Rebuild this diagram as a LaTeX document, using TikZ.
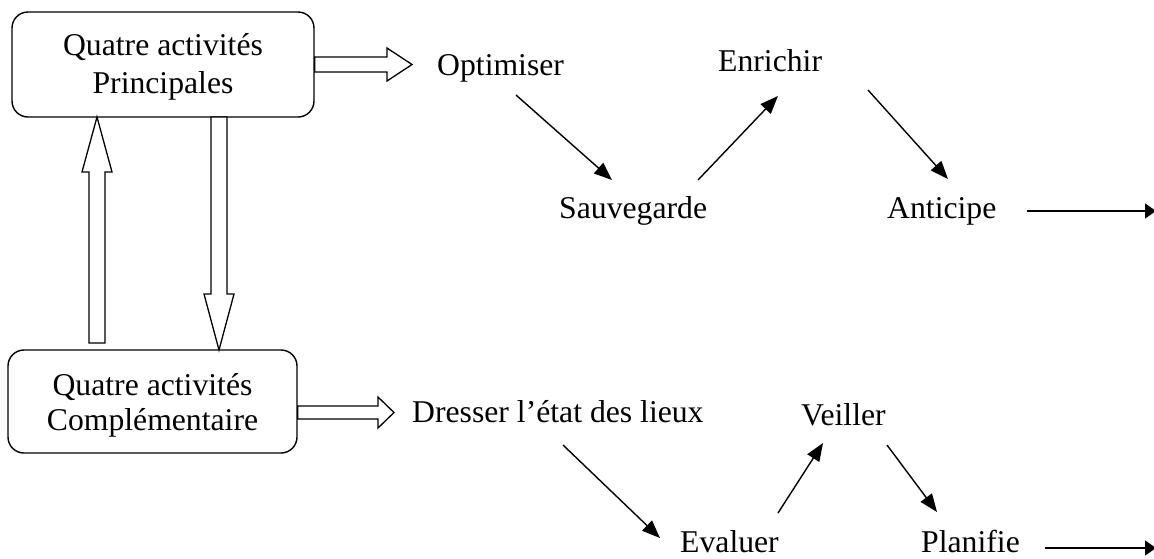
\documentclass[tikz,border=0pt]{standalone}
\usepackage{fontspec}
\setmainfont{Liberation Serif}
\usetikzlibrary{arrows.meta}
\begin{document}
\begin{tikzpicture}[x=1pt,y=-1pt,
  actbox/.style={draw, line width=1.4pt, rounded corners=16pt, inner sep=0pt},
  lbl/.style={anchor=base west, inner sep=0pt, font=\fontsize{31.7}{38}\selectfont},
  flow/.style={line width=1.4pt, -{Triangle[length=18pt,width=14pt]}},
  exit/.style={line width=1.6pt, -{Triangle[length=11pt,width=15pt]}},
  hollow/.style={draw, line width=1.3pt, fill=white, line join=miter}]
\useasboundingbox (0,0) rectangle (1154,558);

% the two activity boxes (text anchored on the baseline of its last line)
\node[actbox, minimum width=302pt, minimum height=105pt] (prin) at (163,64.5) {};
\node[lbl, anchor=base, align=center] (prinT) at (163,93) {Quatre activités\\Principales};
\node[actbox, minimum width=289pt, minimum height=103pt] (comp) at (152.5,401.5) {};
\node[lbl, anchor=base, align=center, font=\fontsize{31.7}{35}\selectfont] (compT) at (152.5,430) {Quatre activités\\Complémentaire};

% block arrows between and out of the boxes
\draw[hollow] (prin.east |- 0,57) -- (387,57) -- (387,48) -- (412,64.5) -- (387,81) -- (387,72) -- (prin.east |- 0,72) -- cycle;
\draw[hollow] (89,343) -- (89,172) -- (82,172) -- (97,117) -- (112,172) -- (105,172) -- (105,343) -- cycle;
\draw[hollow] (211,117) -- (211,294) -- (204,294) -- (219,350) -- (234,294) -- (227,294) -- (227,117) -- cycle;
\draw[hollow] (comp.east |- 0,406) -- (378,406) -- (378,397) -- (394,412.5) -- (378,428) -- (378,419) -- (comp.east |- 0,419) -- cycle;

% activity labels
\node[lbl] (opt) at (437,75) {Optimiser};
\node[lbl] (enr) at (718,71) {Enrichir};
\node[lbl] (sau) at (559,218) {Sauvegarde};
\node[lbl] (ant) at (887,218) {Anticipe};
\node[lbl] (dre) at (412,422) {Dresser l’état des lieux};
\node[lbl] (vei) at (801,425) {Veiller};
\node[lbl] (eva) at (680,552) {Evaluer};
\node[lbl] (pla) at (921,552) {Planifie};

% connector end points
\coordinate (o1) at (516,95);   \coordinate (s1) at (612,180);
\coordinate (s2) at (698,180);  \coordinate (e1) at (778,96);
\coordinate (e2) at (868,90);   \coordinate (a1) at (948,179);
\coordinate (a2) at (1027,211); \coordinate (a3) at (1156,211);
\coordinate (d1) at (563,445);  \coordinate (v1) at (660,538);
\coordinate (v2) at (778,513);  \coordinate (w1) at (823,443);
\coordinate (w2) at (887,445);  \coordinate (p1) at (937,512);
\coordinate (p2) at (1045,548); \coordinate (p3) at (1156,548);

% upper chain
\draw[flow] (o1) -- (s1);
\draw[flow] (s2) -- (e1);
\draw[flow] (e2) -- (a1);
\draw[exit] (a2) -- (a3);

% lower chain
\draw[flow] (d1) -- (v1);
\draw[flow] (v2) -- (w1);
\draw[flow] (w2) -- (p1);
\draw[exit] (p2) -- (p3);
\end{tikzpicture}
\end{document}
